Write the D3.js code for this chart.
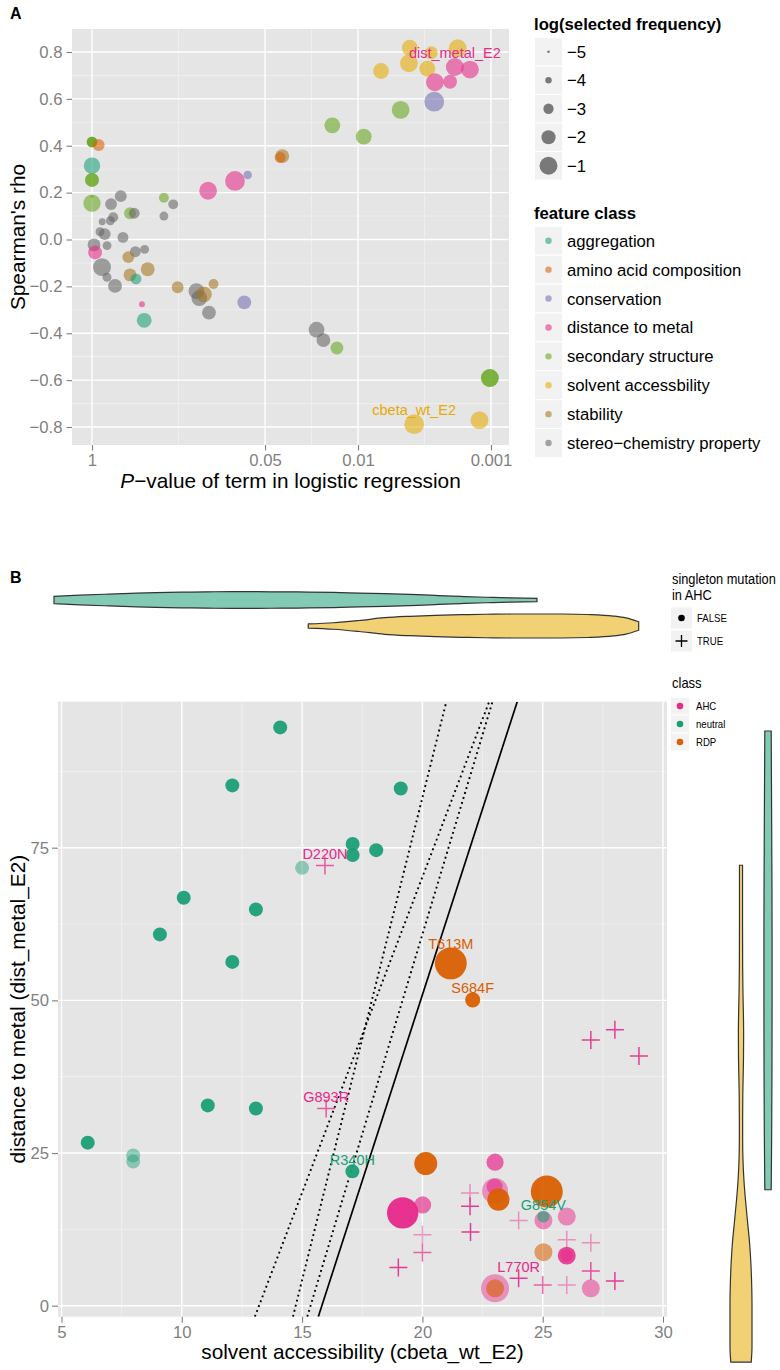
<!DOCTYPE html>
<html>
<head>
<meta charset="utf-8">
<script src="https://cdn.jsdelivr.net/npm/d3@7/dist/d3.min.js"></script>
<style>
body{margin:0;background:#fff;}
text{font-family:'Liberation Sans',Arial,Helvetica,sans-serif;}
</style>
</head>
<body>
<svg id="chart" width="780" height="1370" xmlns="http://www.w3.org/2000/svg"></svg>
<script>
// ================= PANEL A DATA =================
const classNamesA = ["aggregation","amino acid composition","conservation","distance to metal","secondary structure","solvent accessbility","stability","stereo\u2212chemistry property"];
const freqLevels = [-5,-4,-3,-2,-1];
const xTicksA = [1, 0.05, 0.01, 0.001];
const xTickLabelsA = ["1","0.05","0.01","0.001"];
const yTicksA = [-0.8,-0.6,-0.4,-0.2,0,0.2,0.4,0.6,0.8];

// P-value, Spearman's rho, log(selected frequency), feature class index
const pvalA = [1,1,1, 0.891, 1, 1,1, 0.134, 0.0841, 0.0675, 1, 1, 0.608, 0.719, 0.692, 0.728, 0.838, 0.518, 0.481, 0.288, 0.245, 0.288,
  0.871, 0.803, 0.585, 0.966, 0.771, 0.948, 0.472, 0.402, 0.533, 0.841, 0.381, 0.771, 0.518, 0.467, 0.671, 0.227, 0.164, 0.156, 0.144, 0.122,
  0.132, 0.421, 0.405, 0.0716, 0.00408, 0.00281, 0.00178, 0.00414, 0.00671, 0.00301, 0.00187, 0.00144, 0.00264, 0.00203, 0.00267, 0.00478,
  0.0156, 0.00906, 0.0371, 0.0385, 0.0205, 0.0182, 0.0144, 0.00102, 0.00102, 0.00378, 0.00122];
const rhoA = [0.416,0.416,0.416, 0.403, 0.315, 0.254,0.254, 0.208, 0.25, 0.275, 0.155, 0.183, 0.185, 0.151, 0.095, 0.08, 0.076, 0.112, 0.112, 0.178, 0.15, 0.1,
  0.033, 0.023, 0.009, -0.023, -0.026, -0.055, -0.052, -0.042, -0.075, -0.118, -0.127, -0.161, -0.151, -0.168, -0.198, -0.204, -0.22, -0.25, -0.234, -0.19,
  -0.312, -0.276, -0.345, -0.268, 0.818, 0.797, 0.816, 0.752, 0.719, 0.729, 0.736, 0.725, 0.671, 0.673, 0.588, 0.553,
  0.487, 0.439, 0.356, 0.35, -0.385, -0.429, -0.463, -0.591, -0.591, -0.788, -0.771];
const freqA = [-2.95,-2.95,-2.95, -2.59, -1.4, -2.08,-2.08, -1.05, -0.54, -3.46, -1.2, -4.9, -2.59, -2.59, -3.1, -3.36, -3.87, -2.59, -2.85, -3.1, -3.1, -3.36,
  -3.36, -2.59, -2.85, -2.33, -3.36, -2.08, -2.85, -3.36, -2.59, -1.05, -2.08, -3.36, -2.33, -2.85, -2.08, -2.59, -1.56, -1.56, -1.56, -3.1,
  -2.08, -4.13, -1.82, -2.08, -1.56, -2.33, -1.05, -1.05, -1.56, -1.56, -1.05, -1.05, -1.05, -2.08, -0.54, -1.05,
  -1.56, -1.56, -2.08, -2.85, -1.56, -2.08, -2.33, -1.05, -1.05, -0.54, -1.05];
const classA = [4,4,4, 1, 0, 4,4, 3, 3, 2, 4, 4, 7, 7, 7, 7, 7, 4, 7, 4, 7, 7,
  7, 7, 7, 7, 7, 3, 7, 7, 6, 7, 6, 7, 6, 0, 7, 6, 7, 7, 6, 6,
  7, 3, 0, 2, 5, 5, 5, 5, 5, 5, 3, 3, 3, 3, 2, 4,
  4, 4, 6, 1, 7, 7, 4, 4, 4, 5, 5];
const labelTextA = ["dist_metal_E2","cbeta_wt_E2"];
const labelPA = [0.00187, 0.00378];
const labelRhoA = [0.736, -0.788];
const labelClassA = [3, 5];

// ================= PANEL B DATA =================
const classNamesB = ["AHC","neutral","RDP"];
const singletonLevels = ["FALSE","TRUE"];
const xTicksB = [5,10,15,20,25,30];
const yTicksB = [0,25,50,75];
// non-singleton mutations (circles)
const accB = [23.02,23.02,23.0,23.02,19.18,20.01,25.03,26.0,26.0,26.0,27.0,
  14.09,12.1,15.0,10.08,13.08,9.09,12.1,17.1,17.1,18.08,19.1,6.09,7.98,7.98,11.08,13.08,17.09,25.03,
  21.18,22.09,20.14,23.16,25.17,25.03,23.02];
const distB = [2.85,18.8,19.5,23.5,15.2,16.5,13.96,14.6,8.2,8.2,2.85,
  94.7,85.2,71.7,66.8,64.9,60.8,56.3,75.6,73.8,74.6,84.7,26.7,24.6,23.6,32.8,32.3,22.0,14.6,
  56.06,50.08,23.27,17.36,18.7,8.77,2.85];
const classB = [0,0,0,0,0,0,0,0,0,0,0, 1,1,1,1,1,1,1,1,1,1,1,1,1,1,1,1,1,1, 2,2,2,2,2,2,2];
const weightB = [4.0,3.45,1.3,1.5,5.0,1.5,1.65,1.65,1.65,0.8,1.65,
  1,1,1,1,1,1,1,1,1,1,1,1,1,1,1,1,1,0.75,
  5.2,1.15,2.7,2.5,5.2,1.65,1.65];
const confB = [0.45,0.45,0.6,0.7,0.95,0.65,0.5,0.5,0.85,0.5,0.5,
  0.95,0.95,0.45,0.95,0.95,0.95,0.95,0.95,0.95,0.95,0.95,0.95,0.45,0.45,0.95,0.95,0.95,0.6,
  0.95,0.95,0.95,0.95,0.95,0.55,0.6];
// singleton AHC mutations (crosses)
const accS = [15.95,16.0,27.0,28.0,29.0,21.98,21.98,22.0,20.0,20.0,19.0,24.0,24.0,25.0,26.0,26.0,27.0,27.0,28.0];
const distS = [72.1,32.3,43.5,45.2,40.9,18.45,16.3,12.05,11.6,8.7,6.24,13.96,4.5,3.4,10.8,3.4,10.3,5.7,4.05];
const confS = [0.75,0.75,0.9,0.9,0.9,0.45,0.9,0.9,0.45,0.7,0.9,0.45,0.9,0.7,0.45,0.45,0.45,0.8,0.9];
// mutation labels
const mutLabels = ["D220N","T613M","S684F","G893R","R340H","G854V","L770R"];
const mutLabelAcc = [15.95,21.18,22.09,16.0,17.09,25.03,24.0];
const mutLabelDist = [72.1,56.06,50.08,32.3,22.0,14.6,4.5];
const mutLabelClass = [0,2,2,0,1,1,0];
const mutLabelWeight = [0,5.2,1.15,0,1,0.75,0];
// decision lines: distance = intercept + slope * accessibility
const lineIntercepts = [-136.6, -232.8, -200.8, -192.7];
const lineSlopes = [10.34, 15.8, 13.08, 12.18];
const lineDotted = [true, true, true, false];
// marginal densities: solvent accessibility (top)
const topNeutralVal = [6,7,8,9,10,11,12,13,14,15,16,17,18,19,20,21,22,23,24,25];
const topNeutralDen = [0.3,0.4,0.48,0.55,0.61,0.65,0.68,0.7,0.69,0.68,0.66,0.63,0.58,0.53,0.47,0.38,0.3,0.23,0.17,0.13];
const topAHCVal = [16,17,18,19,20,21,22,23,24,25,26,27,28,28.5,29];
const topAHCDen = [0.17,0.27,0.46,0.69,0.81,0.89,0.94,0.98,1,1,1,0.96,0.83,0.67,0.35];
// marginal densities: distance to metal (right)
const rightNeutralVal = [27.7,35,45,55,65,75,85,94];
const rightNeutralDen = [0.29,0.33,0.36,0.37,0.37,0.35,0.32,0.29];
const rightAHCVal = [2.8,5,8,11,14,17,20,23,26,29,32,35,38,42,46,50,53,56,60,66,74.6];
const rightAHCDen = [0.93,1,1,1,0.97,0.9,0.78,0.6,0.42,0.27,0.18,0.15,0.15,0.17,0.22,0.24,0.22,0.18,0.15,0.14,0.14];

// ================= DRAWING =================
const svg = d3.select('#chart');
const dark2 = ["#1B9E77","#D95F02","#7570B3","#E7298A","#66A61E","#E6AB02","#A6761D","#666666"];
const colB = ["#E7298A","#1B9E77","#D95F02"];
const AXIS_GREY = '#7F7F7F';

function panelBackground(rect, xs, ys, xMajor, xMinor, yMajor, yMinor) {
  svg.append('rect').attr('x',rect.l).attr('y',rect.t).attr('width',rect.r-rect.l).attr('height',rect.b-rect.t).attr('fill','#E5E5E5');
  const g = svg.append('g');
  xMinor.forEach(v => g.append('line').attr('x1',xs(v)).attr('x2',xs(v)).attr('y1',rect.t).attr('y2',rect.b).attr('stroke','#F2F2F2').attr('stroke-width',0.7));
  yMinor.forEach(v => g.append('line').attr('y1',ys(v)).attr('y2',ys(v)).attr('x1',rect.l).attr('x2',rect.r).attr('stroke','#F2F2F2').attr('stroke-width',0.7));
  xMajor.forEach(v => g.append('line').attr('x1',xs(v)).attr('x2',xs(v)).attr('y1',rect.t).attr('y2',rect.b).attr('stroke','#fff').attr('stroke-width',1.4));
  yMajor.forEach(v => g.append('line').attr('y1',ys(v)).attr('y2',ys(v)).attr('x1',rect.l).attr('x2',rect.r).attr('stroke','#fff').attr('stroke-width',1.4));
}
function styleAxis(g) {
  g.select('.domain').remove();
  g.selectAll('.tick line').attr('stroke',AXIS_GREY).attr('stroke-width',1.1);
  g.selectAll('.tick text').attr('fill',AXIS_GREY).attr('font-size','16.7px')
    .attr('font-family',"'Liberation Sans',Arial,sans-serif");
}

// ---------- Panel A ----------
const RA = {l:72, r:509, t:29, b:445};
const xA = d3.scaleLog().domain([1, 0.001]).range([92, 491]);
const yA = d3.scaleLinear().domain([-0.8, 0.8]).range([427, 52]);
const rA = d3.scaleLinear().domain([-5, -1]).range([1.3, 9]);
const xMinorA = d3.range(xTicksA.length-1).map(i => Math.sqrt(xTicksA[i]*xTicksA[i+1]));
const yMinorA = d3.range(-0.7, 0.71, 0.2);
panelBackground(RA, xA, yA, xTicksA, xMinorA, yTicksA, yMinorA);

svg.append('g').attr('transform',`translate(${RA.l},0)`)
  .call(d3.axisLeft(yA).tickValues(yTicksA).tickSize(5.5).tickPadding(4).tickFormat(d3.format('.1f'))).call(styleAxis);
svg.append('g').attr('transform',`translate(0,${RA.b})`)
  .call(d3.axisBottom(xA).tickValues(xTicksA).tickSize(5.5).tickPadding(4).tickFormat((d,i)=>xTickLabelsA[i])).call(styleAxis);

svg.append('g').selectAll('circle').data(d3.range(pvalA.length)).join('circle')
  .attr('cx', i => xA(pvalA[i])).attr('cy', i => yA(rhoA[i])).attr('r', i => rA(freqA[i]))
  .attr('fill', i => dark2[classA[i]]).attr('fill-opacity', 0.58);

svg.append('g').selectAll('text').data(d3.range(labelTextA.length)).join('text')
  .attr('x', i => xA(labelPA[i])).attr('y', i => yA(labelRhoA[i]) - 9.5)
  .attr('text-anchor','middle').attr('font-size','14.5px').attr('fill', i => dark2[labelClassA[i]])
  .text(i => labelTextA[i]);

svg.append('text').attr('x',10).attr('y',19).attr('font-size','16px').attr('font-weight','bold').text('A');
svg.append('text').attr('transform',`translate(25,${(RA.t+RA.b)/2}) rotate(-90)`).attr('text-anchor','middle')
  .attr('font-size','20.8px').text("Spearman's rho");
const xtA = svg.append('text').attr('x',(RA.l+RA.r)/2).attr('y',488).attr('text-anchor','middle').attr('font-size','20.8px');
xtA.append('tspan').attr('font-style','italic').text('P');
xtA.append('tspan').text('\u2212value of term in logistic regression');

// Legend A: size
svg.append('text').attr('x',534).attr('y',30).attr('font-size','16.7px').attr('font-weight','bold').text('log(selected frequency)');
const gS = svg.append('g');
freqLevels.forEach((v,i) => {
  const y0 = 37.5 + i*28.5;
  gS.append('rect').attr('x',534.5).attr('y',y0).attr('width',28).attr('height',28.5).attr('fill','#F2F2F2').attr('stroke','#fff').attr('stroke-width',1);
  gS.append('circle').attr('cx',548.5).attr('cy',y0+14.25).attr('r',rA(v)).attr('fill','#000').attr('fill-opacity',0.5);
  gS.append('text').attr('x',567).attr('y',y0+14.25).attr('dy','0.36em').attr('font-size','16.7px').text(d3.format('d')(v));
});
// Legend A: class
svg.append('text').attr('x',534).attr('y',219).attr('font-size','16.7px').attr('font-weight','bold').text('feature class');
const gC = svg.append('g');
classNamesA.forEach((name,i) => {
  const y0 = 226.3 + i*28.9;
  gC.append('rect').attr('x',534.5).attr('y',y0).attr('width',28).attr('height',28.9).attr('fill','#F2F2F2').attr('stroke','#fff').attr('stroke-width',1);
  gC.append('circle').attr('cx',548.5).attr('cy',y0+14.45).attr('r',3.2).attr('fill',dark2[i]).attr('fill-opacity',0.58);
  gC.append('text').attr('x',567).attr('y',y0+14.45).attr('dy','0.36em').attr('font-size','16.7px').text(name);
});

// ---------- Panel B ----------
const RB = {l:58, r:667, t:701.7, b:1316.7};
const xB = d3.scaleLinear().domain([5,30]).range([61.5,663]);
const yB = d3.scaleLinear().domain([0,75]).range([1305.7,847.7]);
const rB = d3.scaleSqrt().domain([0,1]).range([0,7]);
panelBackground(RB, xB, yB, xTicksB, [7.5,12.5,17.5,22.5,27.5], yTicksB, [12.5,37.5,62.5,87.5]);
svg.append('g').attr('transform',`translate(${RB.l},0)`)
  .call(d3.axisLeft(yB).tickValues(yTicksB).tickSize(6).tickPadding(3).tickFormat(d3.format('d'))).call(styleAxis);
svg.append('g').attr('transform',`translate(0,${RB.b})`)
  .call(d3.axisBottom(xB).tickValues(xTicksB).tickSize(6).tickPadding(3).tickFormat(d3.format('d'))).call(styleAxis);

// lines
svg.append('clipPath').attr('id','clipB').append('rect').attr('x',RB.l).attr('y',RB.t).attr('width',RB.r-RB.l).attr('height',RB.b-RB.t);
const gL = svg.append('g').attr('clip-path','url(#clipB)');
const dLo = yB.invert(RB.b), dHi = yB.invert(RB.t);
lineSlopes.forEach((b,i) => {
  const a = lineIntercepts[i];
  const ln = gL.append('line')
    .attr('x1', xB((dLo-a)/b)).attr('y1', yB(dLo))
    .attr('x2', xB((dHi-a)/b)).attr('y2', yB(dHi))
    .attr('stroke','#000');
  if (lineDotted[i]) ln.attr('stroke-width',1.9).attr('stroke-dasharray','1.9 3.3');
  else ln.attr('stroke-width',1.7);
});

// circles
svg.append('g').selectAll('circle').data(d3.range(accB.length)).join('circle')
  .attr('cx', i => xB(accB[i])).attr('cy', i => yB(distB[i])).attr('r', i => rB(weightB[i]))
  .attr('fill', i => colB[classB[i]]).attr('fill-opacity', i => confB[i]);
// crosses
const half = 9;
svg.append('g').selectAll('path').data(d3.range(accS.length)).join('path')
  .attr('d', i => { const x = xB(accS[i]), y = yB(distS[i]);
    return `M${x-half},${y}H${x+half}M${x},${y-half}V${y+half}`; })
  .attr('stroke', colB[0]).attr('stroke-width',1.5).attr('stroke-opacity', i => confS[i]).attr('fill','none');
// labels
svg.append('g').selectAll('text').data(d3.range(mutLabels.length)).join('text')
  .attr('x', i => xB(mutLabelAcc[i]))
  .attr('y', i => yB(mutLabelDist[i]) - Math.max(6.5, rB(mutLabelWeight[i]) - 1.7))
  .attr('text-anchor','middle').attr('font-size','14.5px').attr('fill', i => colB[mutLabelClass[i]])
  .text(i => mutLabels[i]);

svg.append('text').attr('x',10).attr('y',583).attr('font-size','16px').attr('font-weight','bold').text('B');
svg.append('text').attr('transform',`translate(25,${(RB.t+RB.b)/2}) rotate(-90)`).attr('text-anchor','middle')
  .attr('font-size','20.8px').text('distance to metal (dist_metal_E2)');
svg.append('text').attr('x',(RB.l+RB.r)/2).attr('y',1359).attr('text-anchor','middle').attr('font-size','20.8px')
  .text('solvent accessibility (cbeta_wt_E2)');

// marginal violins
const violinFill = {neutral:'#1B9E77', AHC:'#E6AB02'};
const topX = d3.scaleLinear().domain([5,30]).range([28.6,664.1]);
const topY = d3.scalePoint().domain(['neutral','AHC']).range([600,626]);
const topW = d3.scaleLinear().domain([0,1]).range([0,24]);
[['neutral',topNeutralVal,topNeutralDen],['AHC',topAHCVal,topAHCDen]].forEach(([grp,vals,den]) => {
  const cy = topY(grp);
  const area = d3.area().curve(d3.curveMonotoneX)
    .x(i => topX(vals[i])).y0(i => cy - topW(den[i])/2).y1(i => cy + topW(den[i])/2);
  svg.append('path').attr('d', area(d3.range(vals.length)) + 'Z')
    .attr('fill', violinFill[grp]).attr('fill-opacity',0.55).attr('stroke','#333').attr('stroke-width',1.2);
});
const rightY = d3.scaleLinear().domain([0,100]).range([1381.4,689.5]);
const rightX = d3.scalePoint().domain(['AHC','neutral']).range([741,768]);
const rightW = d3.scaleLinear().domain([0,1]).range([0,22]);
[['neutral',rightNeutralVal,rightNeutralDen],['AHC',rightAHCVal,rightAHCDen]].forEach(([grp,vals,den]) => {
  const cx = rightX(grp);
  const area = d3.area().curve(d3.curveMonotoneY)
    .y(i => rightY(vals[i])).x0(i => cx - rightW(den[i])/2).x1(i => cx + rightW(den[i])/2);
  svg.append('path').attr('d', area(d3.range(vals.length)) + 'Z')
    .attr('fill', violinFill[grp]).attr('fill-opacity',0.55).attr('stroke','#333').attr('stroke-width',1.2);
});

// Legend B (vertically stretched text like the reference)
function stretchedText(x, y, str, size, sy) {
  return svg.append('text').attr('transform',`translate(${x},${y}) scale(1,${sy||1.15})`)
    .attr('font-size', size+'px').text(str);
}
stretchedText(672, 584, 'singleton mutation', 12.8, 1.1);
stretchedText(672, 599.5, 'in AHC', 12.8, 1.1);
singletonLevels.forEach((lv,i) => {
  const y0 = 607 + i*23;
  svg.append('rect').attr('x',670.5).attr('y',y0).attr('width',22).attr('height',22).attr('fill','#F2F2F2').attr('stroke','#fff');
  const cx = 681.5, cy = y0+11;
  if (lv === 'FALSE') svg.append('circle').attr('cx',cx).attr('cy',cy).attr('r',3.3).attr('fill','#000');
  else svg.append('path').attr('d',`M${cx-6},${cy}H${cx+6}M${cx},${cy-6}V${cy+6}`).attr('stroke','#000').attr('stroke-width',1.3);
  stretchedText(697, cy+4, lv, 9.6, 1.2);
});
stretchedText(672, 688, 'class', 13, 1.15);
classNamesB.forEach((name,i) => {
  const y0 = 697 + i*18;
  svg.append('rect').attr('x',670.5).attr('y',y0).attr('width',19).attr('height',18).attr('fill','#F2F2F2').attr('stroke','#fff');
  svg.append('circle').attr('cx',680).attr('cy',y0+9).attr('r',3.3).attr('fill',colB[i]);
  stretchedText(696, y0+13, name, 9.6, 1.2);
});
</script>
</body>
</html>
